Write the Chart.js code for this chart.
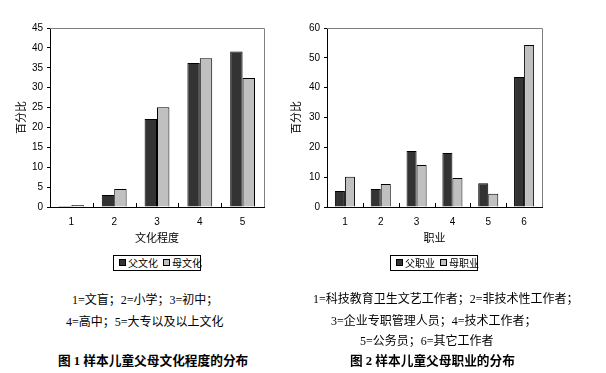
<!DOCTYPE html>
<html>
<head>
<meta charset="utf-8">
<script src="https://cdn.jsdelivr.net/npm/chart.js@4"></script>
<style>
  body { margin: 0; background: #fff; width: 606px; height: 373px; position: relative; overflow: hidden;
         font-family: "Liberation Serif", "Noto Sans CJK SC", serif; color: #000; }
  canvas { position: absolute; top: 0; }
  #c1 { left: 0; }
  #c2 { left: 275px; }
  .legend { position: absolute; top: 255px; height: 16px; border: 1px solid #000; box-sizing: border-box;
            font: 10px "Noto Sans CJK SC", sans-serif; line-height: 14px; white-space: nowrap; padding-left: 5px; }
  .legend span.box { display: inline-block; width: 5px; height: 5px; border: 1px solid #000; margin-right: 2px; vertical-align: 1px; }
  .legend span.item { margin-right: 5px; }
  .txt { position: absolute; font-size: 12px; line-height: 14px; white-space: nowrap; }
  .cap { font-weight: bold; font-size: 12.7px; }
</style>
</head>
<body>
<canvas id="c1" width="290" height="250"></canvas>
<canvas id="c2" width="331" height="250"></canvas>
<div class="legend" id="lg1" style="left:113px;width:88px;"></div>
<div class="legend" id="lg2" style="left:390px;width:88px;"></div>

<div class="txt" style="left:72px;top:293px;">1=文盲；2=小学；3=初中；</div>
<div class="txt" style="left:66px;top:315px;">4=高中；5=大专以及以上文化</div>
<div class="txt cap" style="left:58px;top:354px;">图 1 样本儿童父母文化程度的分布</div>

<div class="txt" style="left:313px;top:292px;">1=科技教育卫生文艺工作者；2=非技术性工作者；</div>
<div class="txt" style="left:331px;top:314px;">3=企业专职管理人员；4=技术工作者；</div>
<div class="txt" style="left:360px;top:334px;">5=公务员；6=其它工作者</div>
<div class="txt cap" style="left:350px;top:354px;">图 2 样本儿童父母职业的分布</div>

<script>
// 图1 数据
const eduLabels = ['1', '2', '3', '4', '5'];
const fatherEdu = [0.25, 3.0, 22.1, 36.2, 39.1];
const motherEdu = [0.5, 4.5, 25.1, 37.4, 32.4];

// 图2 数据
const jobLabels = ['1', '2', '3', '4', '5', '6'];
const fatherJob = [5.4, 6.0, 18.8, 18.1, 8.0, 43.6];
const motherJob = [10.1, 7.7, 14.1, 9.7, 4.4, 54.3];

const DARK = '#333333';
const LIGHT = '#c0c0c0';
const tickFont = { family: 'Liberation Sans', size: 10 };
const titleFont = { family: 'Noto Sans CJK SC', size: 11 };

// marco gris arriba/derecha + marcas del eje x hacia dentro
const framePlugin = {
  id: 'frame',
  afterDraw(chart) {
    const { ctx, chartArea: a } = chart;
    const x = chart.scales.x;
    ctx.save();
    ctx.strokeStyle = '#808080';
    ctx.lineWidth = 1;
    ctx.beginPath();
    ctx.moveTo(a.left, a.top + 0.5);
    ctx.lineTo(a.right + 0.5, a.top + 0.5);
    ctx.lineTo(a.right + 0.5, a.bottom);
    ctx.stroke();
    ctx.strokeStyle = '#000';
    ctx.beginPath();
    const n = chart.data.labels.length;
    const w = (x.getPixelForValue(1) - x.getPixelForValue(0));
    for (let i = 1; i < n; i++) {
      const px = Math.round(x.getPixelForValue(i) - w / 2) + 0.5;
      ctx.moveTo(px, a.bottom);
      ctx.lineTo(px, a.bottom - 4);
    }
    ctx.stroke();
    ctx.restore();
  }
};

function makeChart(id, labels, d1, d2, names, yMax, yStep, xTitle, yWidth, pad, catPct) {
  return new Chart(document.getElementById(id), {
    type: 'bar',
    data: {
      labels: labels,
      datasets: [
        { label: names[0], data: d1, backgroundColor: DARK, borderColor: '#000', borderWidth: 1 },
        { label: names[1], data: d2, backgroundColor: LIGHT, borderColor: '#000', borderWidth: 1 }
      ]
    },
    options: {
      responsive: false,
      animation: false,
      layout: { padding: pad },
      datasets: { bar: { categoryPercentage: catPct, barPercentage: 1 } },
      plugins: { legend: { display: false }, tooltip: { enabled: false } },
      scales: {
        x: {
          grid: { display: false },
          border: { display: true, color: '#000', width: 1 },
          ticks: { color: '#000', font: tickFont, padding: 1, maxRotation: 0 },
          title: { display: true, text: xTitle, color: '#000', font: titleFont, padding: { top: 0, bottom: 6 } },
          afterFit: s => { s.height = 43; }
        },
        y: {
          min: 0, max: yMax,
          grid: { drawOnChartArea: false, drawTicks: true, tickLength: 3, color: '#000' },
          border: { display: true, color: '#000', width: 1 },
          ticks: { stepSize: yStep, color: '#000', font: tickFont, padding: 4 },
          title: { display: true, text: '百分比', color: '#000', font: titleFont, padding: { top: 14, bottom: 0 } },
          afterFit: s => { s.width = yWidth; }
        }
      }
    },
    plugins: [framePlugin]
  });
}

const chart1 = makeChart('c1', eduLabels, fatherEdu, motherEdu, ['父文化', '母文化'], 45, 5, '文化程度',
  50, { top: 28, right: 26, left: 0, bottom: 0 }, 0.58);
const chart2 = makeChart('c2', jobLabels, fatherJob, motherJob, ['父职业', '母职业'], 60, 10, '职业',
  52, { top: 28, right: 64, left: 0, bottom: 0 }, 0.56);

// leyendas en html
function buildLegend(chart, el) {
  el.innerHTML = chart.data.datasets.map(ds =>
    '<span class="item"><span class="box" style="background:' + ds.backgroundColor + '"></span>' + ds.label + '</span>'
  ).join('');
}
buildLegend(chart1, document.getElementById('lg1'));
buildLegend(chart2, document.getElementById('lg2'));
</script>
</body>
</html>
